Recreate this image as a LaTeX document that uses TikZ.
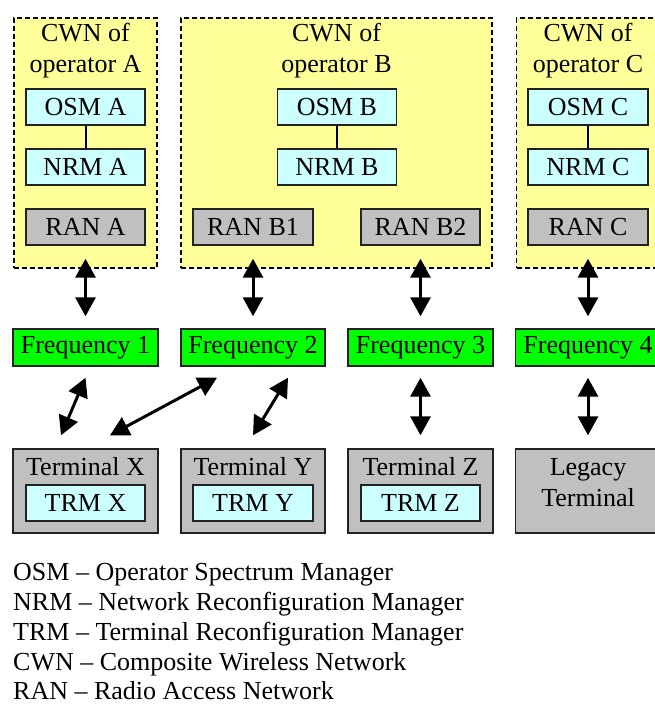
\documentclass[tikz,border=0pt]{standalone}
\usepackage{fontspec}
\setmainfont{Liberation Serif}
\usetikzlibrary{arrows.meta}
\definecolor{cwnyellow}{HTML}{FFFF99}
\definecolor{mgrcyan}{HTML}{CCFFFF}
\definecolor{rangray}{HTML}{C0C0C0}
\definecolor{freqgreen}{HTML}{00FF00}
\definecolor{edgecol}{HTML}{222222}
\begin{document}
\begin{tikzpicture}[x=1pt,y=-1pt,
  every node/.style={font=\fontsize{26}{31}\selectfont, inner sep=0pt},
  cwnbox/.style={draw=black, line width=1.3pt, dash pattern=on 5pt off 3pt, fill=cwnyellow, minimum width=143pt, minimum height=250pt},
  mgrbox/.style={draw=edgecol, line width=1.4pt, fill=mgrcyan, minimum width=119pt, minimum height=36pt},
  ranbox/.style={draw=edgecol, line width=1.4pt, fill=rangray, minimum width=119pt, minimum height=36pt},
  freqbox/.style={draw=edgecol, line width=1.4pt, fill=freqgreen, minimum width=145pt, minimum height=37pt},
  termbox/.style={draw=edgecol, line width=1.4pt, fill=rangray, minimum width=145pt, minimum height=84pt},
  title/.style={align=center},
  link/.style={draw=black, line width=2pt},
  arr/.style={draw=black, line width=3pt, {Triangle[length=19pt,width=20pt]}-{Triangle[length=19pt,width=20pt]}},
  legend/.style={anchor=base west}
]
\clip (0,0) rectangle (655,704);
% CWN boxes
\node[cwnbox] (cwnA) at (85.5,143) {};
\node[cwnbox, minimum width=311pt] (cwnB) at (336.5,143) {};
\node[cwnbox] (cwnC) at (588,143) {};
\node[title] (cwnAt) at (85.5,51) {CWN of\\operator A};
\node[title] (cwnBt) at (336.5,51) {CWN of\\operator B};
\node[title] (cwnCt) at (588,51) {CWN of\\operator C};
% managers
\node[mgrbox] (osmA) at (85.5,107) {OSM A};
\node[mgrbox] (nrmA) at (85.5,167) {NRM A};
\node[ranbox] (ranA) at (85.5,227) {RAN A};
\node[mgrbox] (osmB) at (337,107) {OSM B};
\node[mgrbox] (nrmB) at (337,167) {NRM B};
\node[ranbox, minimum width=120pt] (ranB1) at (253,227) {RAN B1};
\node[ranbox] (ranB2) at (420.5,227) {RAN B2};
\node[mgrbox, minimum width=120pt] (osmC) at (588,107) {OSM C};
\node[mgrbox, minimum width=120pt] (nrmC) at (588,167) {NRM C};
\node[ranbox, minimum width=120pt] (ranC) at (588,227) {RAN C};
\draw[link] (osmA) -- (nrmA);
\draw[link] (osmB) -- (nrmB);
\draw[link] (osmC) -- (nrmC);
% frequencies
\node[freqbox] (f1) at (85.5,347.5) {Frequency 1};
\node[freqbox, minimum width=144pt] (f2) at (253,347.5) {Frequency 2};
\node[freqbox] (f3) at (420.5,347.5) {Frequency 3};
\node[freqbox] (f4) at (588,347.5) {Frequency 4};
% terminals
\node[termbox] (tX) at (85.5,491) {};
\node[termbox, minimum width=144pt] (tY) at (253,491) {};
\node[termbox] (tZ) at (420.5,491) {};
\node[termbox] (tL) at (588,491) {};
\node (tXt) at (85.5,467) {Terminal X};
\node (tYt) at (253,467) {Terminal Y};
\node (tZt) at (420.5,467) {Terminal Z};
\node[mgrbox] (trmX) at (85.5,503) {TRM X};
\node[mgrbox, minimum width=120pt] (trmY) at (253,503) {TRM Y};
\node[mgrbox] (trmZ) at (420.5,503) {TRM Z};
\node[title] (tLt) at (588,483) {Legacy\\Terminal};
% arrows RAN <-> frequency
\draw[arr, shorten <=13pt, shorten >=12pt] (ranA.south) -- (f1.north);
\draw[arr, shorten <=13pt, shorten >=12pt] (ranB1.south) -- (f2.north);
\draw[arr, shorten <=13pt, shorten >=12pt] (ranB2.south) -- (f3.north);
\draw[arr, shorten <=13pt, shorten >=12pt] (ranC.south) -- (f4.north);
% arrows frequency <-> terminal
\draw[arr] ([yshift=-11pt]f1.south) -- ([xshift=-24.5pt,yshift=13pt]tX.north);
\draw[arr] ([xshift=-36pt,yshift=-11pt]f2.south) -- ([xshift=24.5pt,yshift=13pt]tX.north);
\draw[arr] ([xshift=35pt,yshift=-11pt]f2.south) -- ([yshift=13pt]tY.north);
\draw[arr] ([yshift=-11pt]f3.south) -- ([yshift=13pt]tZ.north);
\draw[arr] ([yshift=-11pt]f4.south) -- ([yshift=13pt]tL.north);
% legend
\node[legend] (l1) at (13,580) {OSM – Operator Spectrum Manager};
\node[legend] (l2) at (13,610) {NRM – Network Reconfiguration Manager};
\node[legend] (l3) at (13,640) {TRM – Terminal Reconfiguration Manager};
\node[legend] (l4) at (13,670) {CWN – Composite Wireless Network};
\node[legend] (l5) at (13,699) {RAN – Radio Access Network};
\end{tikzpicture}
\end{document}
